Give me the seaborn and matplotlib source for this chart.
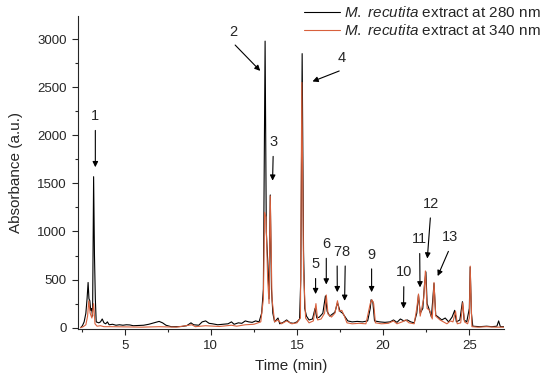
import numpy as np
import pandas as pd
import seaborn as sns
import matplotlib.pyplot as plt
from matplotlib.ticker import MultipleLocator

# chromatogram at 280 nm (time in min, absorbance a.u.)
t_280 = [2.45, 2.55, 2.65, 2.75, 2.82, 2.88, 2.93, 2.98, 3.03, 3.08, 3.14, 3.2, 3.25, 3.3, 3.35,
         3.5, 3.6, 3.7, 3.8, 3.9, 4.0, 4.1, 4.3, 4.5, 4.7, 4.9, 5.1, 5.3, 5.5, 5.8, 6.1, 6.4,
         6.7, 7.0, 7.2, 7.4, 7.7, 8.0, 8.3, 8.6, 8.85, 9.0, 9.3, 9.5, 9.7, 9.9, 10.1, 10.4,
         10.7, 11.0, 11.2, 11.35, 11.6, 11.8, 12.0, 12.2, 12.4, 12.6, 12.8, 12.95, 13.05, 13.15,
         13.22, 13.3, 13.38, 13.45, 13.52, 13.6, 13.7, 13.9, 14.0, 14.2, 14.4, 14.6, 14.8, 15.0,
         15.15, 15.22, 15.3, 15.38, 15.45, 15.55, 15.7, 15.9, 16.05, 16.15, 16.3, 16.5, 16.65,
         16.75, 16.9, 17.05, 17.2, 17.35, 17.5, 17.65, 17.8, 17.95, 18.2, 18.5, 18.8, 19.1,
         19.25, 19.3, 19.4, 19.5, 19.8, 20.1, 20.4, 20.6, 20.8, 21.0, 21.2, 21.4, 21.6, 21.8,
         21.95, 22.05, 22.15, 22.3, 22.4, 22.48, 22.55, 22.65, 22.8, 22.95, 23.05, 23.2, 23.4,
         23.6, 23.8, 24.0, 24.15, 24.25, 24.45, 24.6, 24.7, 24.85, 25.0, 25.05, 25.12, 25.2,
         25.6, 26.0, 26.3, 26.6, 26.7, 26.8, 27.0]
a_280 = [0, 20, 60, 150, 300, 470, 300, 280, 180, 200, 120, 1570, 750, 300, 60,
         50, 60, 90, 50, 40, 60, 30, 35, 25, 30, 25, 30, 28, 20, 22, 25, 35,
         50, 65, 50, 25, 10, 10, 12, 20, 50, 30, 25, 60, 70, 45, 40, 30,
         35, 40, 60, 35, 50, 45, 70, 60, 55, 70, 60, 150, 400, 2980,
         1000, 700, 300, 1380, 400, 150, 60, 100, 40, 55, 80, 50, 45, 60,
         90, 500, 2850, 800, 200, 120, 80, 90, 200, 100, 110, 150, 330,
         170, 120, 140, 160, 260, 170, 150, 110, 70, 60, 65, 60, 70,
         200, 290, 270, 70, 60, 55, 60, 80, 55, 90, 70, 80, 60, 50,
         150, 340, 150, 200, 450, 580, 250, 200, 110, 460, 130, 110, 80,
         100, 60, 110, 180, 60, 80, 270, 80, 60, 200, 630, 150, 15,
         10, 15, 10, 15, 70, 10, 10]

# chromatogram at 340 nm
t_340 = [2.45, 2.6, 2.75, 2.85, 2.92, 3.0, 3.1, 3.2, 3.28, 3.4, 3.6, 3.8, 4.2, 5.0, 6.0, 7.0,
         8.0, 8.9, 9.1, 9.7, 10.5, 11.2, 11.5, 12.0, 12.5, 12.9, 13.05, 13.12, 13.2, 13.3,
         13.38, 13.45, 13.55, 13.7, 13.9, 14.1, 14.4, 14.7, 15.0, 15.2, 15.28, 15.38, 15.5,
         15.7, 15.95, 16.1, 16.2, 16.4, 16.6, 16.7, 16.8, 17.0, 17.2, 17.35, 17.45, 17.6,
         17.75, 17.9, 18.2, 18.6, 19.0, 19.25, 19.35, 19.45, 19.55, 19.9, 20.3, 20.6, 20.8,
         21.1, 21.3, 21.5, 21.8, 21.95, 22.05, 22.15, 22.35, 22.45, 22.55, 22.7, 22.85, 22.95,
         23.05, 23.3, 23.5, 23.7, 23.9, 24.05, 24.2, 24.3, 24.5, 24.62, 24.72, 24.9, 25.0,
         25.05, 25.1, 25.15, 25.5, 26.0, 26.5, 27.0]
a_340 = [0, 10, 30, 120, 280, 150, 100, 250, 40, 15, 20, 10, 10, 8, 5, 10,
         5, 30, 10, 20, 12, 25, 15, 30, 35, 60, 300, 1200, 1150, 500,
         250, 1370, 300, 60, 80, 40, 70, 40, 50, 100, 2550, 600, 100,
         50, 70, 250, 80, 90, 150, 340, 140, 110, 150, 280, 170, 180,
         120, 50, 40, 45, 40, 250, 290, 250, 50, 40, 45, 70, 40,
         60, 80, 50, 40, 200, 350, 120, 300, 590, 200, 180, 90, 470,
         120, 80, 60, 40, 70, 60, 170, 40, 50, 260, 60, 40, 100,
         640, 300, 10, 5, 10, 5, 5]

# peak labels: number, label position, arrow tip
peak_ids = ["1", "2", "3", "4", "5", "6", "7", "8", "9", "10", "11", "12", "13"]
label_xy = [(3.3, 2200), (11.3, 3080), (13.62, 1930), (17.6, 2800), (16.08, 660), (16.7, 870),
            (17.33, 790), (17.8, 790), (19.33, 760), (21.2, 575), (22.12, 920), (22.75, 1290),
            (23.85, 940)]
tip_xy = [(3.3, 1640), (12.98, 2650), (13.58, 1500), (15.75, 2550), (16.08, 320), (16.7, 420),
          (17.34, 340), (17.76, 250), (19.33, 340), (21.18, 170), (22.14, 390), (22.55, 690),
          (23.1, 510)]

df = pd.concat([
    pd.DataFrame({"t": t_280, "a": a_280, "s": "280"}),
    pd.DataFrame({"t": t_340, "a": a_340, "s": "340"}),
])

sns.set_style("ticks")
plt.rcParams["font.family"] = ["Liberation Sans", "DejaVu Sans"]
plt.rcParams["mathtext.fontset"] = "custom"
plt.rcParams["mathtext.rm"] = "Liberation Sans"
plt.rcParams["mathtext.it"] = "Liberation Sans:italic"

fig = plt.figure(figsize=(5.5, 3.84), dpi=100)
ax = fig.add_axes([0.142, 0.143, 0.774, 0.815])

sns.lineplot(data=df[df.s == "280"], x="t", y="a", color="black", lw=0.8, ax=ax,
             label=r"$\mathit{M.\ recutita}$ extract at 280 nm")
sns.lineplot(data=df[df.s == "340"], x="t", y="a", color="#d8603c", lw=0.8, ax=ax,
             label=r"$\mathit{M.\ recutita}$ extract at 340 nm")

for lab, (lx, ly), (tx, ty) in zip(peak_ids, label_xy, tip_xy):
    ax.annotate("", xy=(tx, ty), xytext=(lx, ly - 120),
                arrowprops=dict(arrowstyle="-|>", color="black", lw=0.8, mutation_scale=8))
    ax.text(lx, ly, lab, ha="center", va="center", fontsize=10.5)

ax.set_xlim(2.3, 27)
ax.set_ylim(-15, 3240)
ax.xaxis.set_major_locator(MultipleLocator(5))
ax.xaxis.set_minor_locator(MultipleLocator(2.5))
ax.yaxis.set_major_locator(MultipleLocator(500))
ax.yaxis.set_minor_locator(MultipleLocator(250))
ax.tick_params(which="major", direction="out", length=4.5, width=0.8, labelsize=9.5)
ax.tick_params(which="minor", direction="out", length=2.5, width=0.8)
sns.despine(ax=ax)
ax.set_xlabel("Time (min)", fontsize=11, labelpad=5)
ax.set_ylabel("Absorbance (a.u.)", fontsize=11, labelpad=10)

ax.legend(loc="upper right", bbox_to_anchor=(1.0, 1.01), bbox_transform=fig.transFigure,
          frameon=False, fontsize=11, handlelength=2.3, handletextpad=0.3,
          labelspacing=0.2, borderaxespad=0.2)

fig.savefig("out.png", dpi=100)
